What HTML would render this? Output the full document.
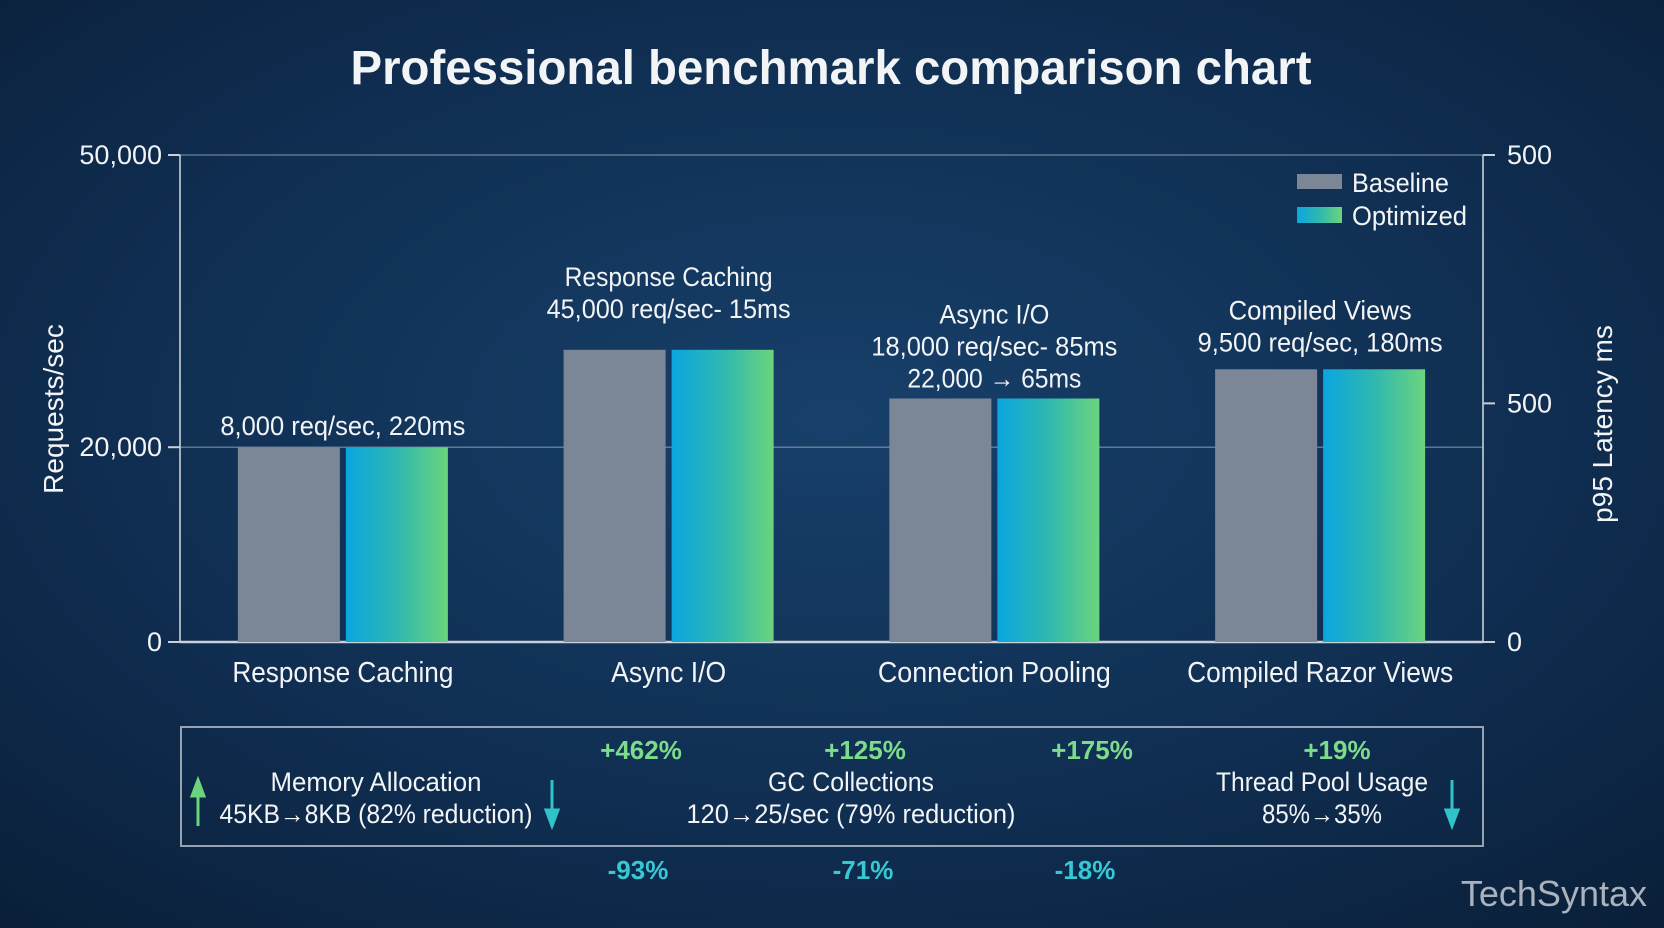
<!DOCTYPE html>
<html><head><meta charset="utf-8">
<style>
html,body{margin:0;padding:0;width:1664px;height:928px;overflow:hidden;background:#0e2744;}
svg{display:block;}
text{font-family:"Liberation Sans Narrow","Liberation Sans",sans-serif;fill:#f2f4f6;}
</style></head>
<body>
<svg id="chart" width="1664" height="928" viewBox="0 0 1664 928" xmlns="http://www.w3.org/2000/svg">
<defs>
<radialGradient id="bg" cx="0.5" cy="0.45" r="0.75">
<stop offset="0" stop-color="#17406a"/>
<stop offset="0.6" stop-color="#0f2d50"/>
<stop offset="1" stop-color="#0a1f38"/>
</radialGradient>
<linearGradient id="opt" x1="0" y1="0" x2="1" y2="0">
<stop offset="0" stop-color="#0aa6df"/>
<stop offset="0.5" stop-color="#2fb8b0"/>
<stop offset="1" stop-color="#6bd47d"/>
</linearGradient>
</defs>
<rect x="0" y="0" width="1664" height="928" fill="url(#bg)"/>
<text x="831" y="84" text-anchor="middle" textLength="961" lengthAdjust="spacingAndGlyphs" style="font-family:'Liberation Sans',sans-serif;font-weight:bold;font-size:48px;">Professional benchmark comparison chart</text>
<g id="grid"></g>
<g id="bars"></g>
<g id="labels"></g>
<text transform="translate(63,409) rotate(-90)" text-anchor="middle" style="font-family:'Liberation Sans',sans-serif;font-size:28px;">Requests/sec</text>
<text transform="translate(1612,424) rotate(-90)" text-anchor="middle" style="font-family:'Liberation Sans',sans-serif;font-size:28px;">p95 Latency ms</text>
<g>
<rect x="1297" y="174" width="45" height="15" fill="#7b8797"/>
<text x="1352" y="192" font-size="27" textLength="97" lengthAdjust="spacingAndGlyphs">Baseline</text>
<rect x="1297" y="207" width="45" height="16" fill="url(#opt)"/>
<text x="1352" y="225" font-size="27" textLength="115" lengthAdjust="spacingAndGlyphs">Optimized</text>
</g>
<g>
<rect x="181" y="727" width="1302" height="119" fill="none" stroke="#b9c2cc" stroke-width="2" opacity="0.8"/>
<path d="M198 826 V792 M192 796 L198 780 L204 796 Z" stroke="#6bd47d" stroke-width="3" fill="#6bd47d"/>
<path d="M552 780 V814 M546 810 L552 826 L558 810 Z" stroke="#2fc4c8" stroke-width="3" fill="#2fc4c8"/>
<path d="M1452 780 V814 M1446 810 L1452 826 L1458 810 Z" stroke="#2fc4c8" stroke-width="3" fill="#2fc4c8"/>
<text x="376" y="791" text-anchor="middle" font-size="27" textLength="211" lengthAdjust="spacingAndGlyphs">Memory Allocation</text>
<text x="376" y="823" text-anchor="middle" font-size="27" textLength="313" lengthAdjust="spacingAndGlyphs">45KB→8KB (82% reduction)</text>
<text x="851" y="791" text-anchor="middle" font-size="27" textLength="166" lengthAdjust="spacingAndGlyphs">GC Collections</text>
<text x="851" y="823" text-anchor="middle" font-size="27" textLength="329" lengthAdjust="spacingAndGlyphs">120→25/sec (79% reduction)</text>
<text x="1322" y="791" text-anchor="middle" font-size="27" textLength="212" lengthAdjust="spacingAndGlyphs">Thread Pool Usage</text>
<text x="1322" y="823" text-anchor="middle" font-size="27" textLength="120" lengthAdjust="spacingAndGlyphs">85%→35%</text>
<g id="pcts"></g>
</g>
<text x="1647" y="906" text-anchor="end" style="font-family:'Liberation Sans',sans-serif;font-size:36px;fill:#a9b2bd;">TechSyntax</text>
</svg>
<script>
const categories = ["Response Caching", "Async I/O", "Connection Pooling", "Compiled Razor Views"];
const baselineValues = [20000, 30000, 25000, 28000];
const optimizedValues = [20000, 30000, 25000, 28000];
const yTicks = [0, 20000, 50000];
const yTickLabels = ["0", "20,000", "50,000"];
const y2TickLabels = ["0", "500", "500"];
const y2TickValues = [0, 24500, 50000];
const annotations = [["8,000 req/sec, 220ms"], ["Response Caching", "45,000 req/sec- 15ms"], ["Async I/O", "18,000 req/sec- 85ms", "22,000 → 65ms"], ["Compiled Views", "9,500 req/sec, 180ms"]];
const gainLabels = ["+462%", "+125%", "+175%", "+19%"];
const lossLabels = ["-93%", "-71%", "-18%"];

const NS = "http://www.w3.org/2000/svg";
const X0 = 180, X1 = 1483, Y0 = 642, Y1 = 155, YMAX = 50000;
const textW = {"8,000 req/sec, 220ms":245,"Response Caching":208,"45,000 req/sec- 15ms":244,"Async I/O":110,"18,000 req/sec- 85ms":246,"22,000 → 65ms":174,"Compiled Views":183,"9,500 req/sec, 180ms":245};
const catW = [221, 115, 233, 266];
const annoGap = [12, 32, 11, 18];
function yScale(v){ return Y0 - (v / YMAX) * (Y0 - Y1); }
const band = (X1 - X0) / categories.length;
function xCenter(i){ return X0 + band * (i + 0.5); }
function mk(tag, attrs, parent){ const e = document.createElementNS(NS, tag); for (const k in attrs) e.setAttribute(k, attrs[k]); parent.appendChild(e); return e; }

const grid = document.getElementById("grid");
yTicks.forEach((t, i) => {
  const y = yScale(t);
  if (t > 0) {
    const gl = mk("line", {x1: X0, x2: X1, y1: y, y2: y, stroke: "#9fb0c2", "stroke-width": 1.5, opacity: 0.55}, grid);
    
    
  }
  const tk = mk("line", {x1: X0 - 12, x2: X0, y1: y, y2: y, stroke: "#c8d0d8", "stroke-width": 2}, grid);
  
  
  const tl = mk("text", {x: X0 - 18, y: y + 9, "text-anchor": "end", "font-size": 27}, grid);
  tl.textContent = yTickLabels[i];
  
  
});
y2TickValues.forEach((t, i) => {
  const y = yScale(t);
  const tk = mk("line", {x1: X1, x2: X1 + 12, y1: y, y2: y, stroke: "#c8d0d8", "stroke-width": 2}, grid);
  
  
  const tl = mk("text", {x: X1 + 24, y: y + 9, "font-size": 27}, grid);
  tl.textContent = y2TickLabels[i];
  
  
});
const la = mk("line", {x1: X0, x2: X0, y1: Y1, y2: Y0, stroke: "#c8d0d8", "stroke-width": 2, opacity: 0.8}, grid);


const ra = mk("line", {x1: X1, x2: X1, y1: Y1, y2: Y0, stroke: "#c8d0d8", "stroke-width": 2, opacity: 0.8}, grid);


const xa = mk("line", {x1: X0, x2: X1, y1: Y0, y2: Y0, stroke: "#c8d0d8", "stroke-width": 2.5}, grid);



const bars = document.getElementById("bars");
const labels = document.getElementById("labels");
const BW = 102, GAP = 6;
categories.forEach((c, i) => {
  const cx = xCenter(i);
  const yb = yScale(baselineValues[i]);
  const b = mk("rect", {x: cx - GAP / 2 - BW, y: yb, width: BW, height: Y0 - yb, fill: "#7b8797"}, bars);
  
  
  const yo = yScale(optimizedValues[i]);
  const o = mk("rect", {x: cx + GAP / 2, y: yo, width: BW, height: Y0 - yo, fill: "url(#opt)"}, bars);
  
  
  const cl = mk("text", {x: cx, y: Y0 + 40, "text-anchor": "middle", "font-size": 29, textLength: catW[i], lengthAdjust: "spacingAndGlyphs"}, labels);
  cl.textContent = c;
  
  
  const lines = annotations[i];
  const top = Math.min(yb, yo);
  lines.forEach((t, j) => {
    const attrs = {x: cx, y: top - annoGap[i] - (lines.length - 1 - j) * 32, "text-anchor": "middle", "font-size": 27};
    if (textW[t]) { attrs.textLength = textW[t]; attrs.lengthAdjust = "spacingAndGlyphs"; }
    const a = mk("text", attrs, labels);
    a.textContent = t;
    
    
  });
});

const pcts = document.getElementById("pcts");
const gainX = [641, 865, 1092, 1337];
gainLabels.forEach((t, i) => {
  const g = mk("text", {x: gainX[i], y: 759, "text-anchor": "middle", "font-size": 26, "font-weight": "bold", style: "fill:#7ddc8a"}, pcts);
  g.textContent = t;
  
  
});
const lossX = [638, 863, 1085];
lossLabels.forEach((t, i) => {
  const l = mk("text", {x: lossX[i], y: 879, "text-anchor": "middle", "font-size": 26, "font-weight": "bold", style: "fill:#38c8d4"}, pcts);
  l.textContent = t;
  
  
});
</script>
</body></html>
